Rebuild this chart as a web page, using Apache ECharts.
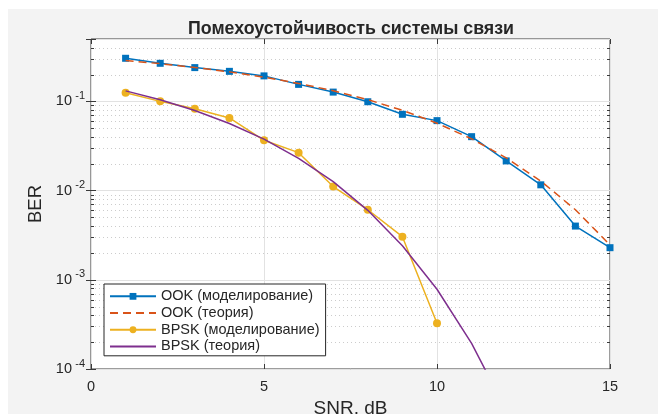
<!DOCTYPE html>
<html>
<head>
<meta charset="utf-8">
<script src="https://cdn.jsdelivr.net/npm/echarts@6/dist/echarts.min.js"></script>
<style>
html,body{margin:0;padding:0;background:#ffffff;}
#chart{width:658px;height:414px;}
</style>
</head>
<body>
<div id="chart"></div>
<script>
// ---- data ----
const snrSim = [1,2,3,4,5,6,7,8,9,10,11,12,13,14,15];
const ookSim = [0.304,0.267,0.239,0.217,0.193,0.155,0.127,0.099,0.0716,0.0608,0.0402,0.0215,0.0116,0.0040,0.00229];
const snrTheory = [1,2,3,4,5,6,7,8,9,10,11,12,13,14,15];
const ookTheory = [0.287,0.2645,0.240,0.214,0.187,0.159,0.1315,0.1045,0.0794,0.0569,0.0380,0.0233,0.0128,0.0061,0.00246];
const snrBpskSim = [1,2,3,4,5,6,7,8,9,10];
const bpskSim = [0.125,0.100,0.0828,0.0652,0.0366,0.0266,0.0111,0.0061,0.00304,0.000325];
const snrBpskTheory = [1,2,3,4,5,6,7,8,9,10,11,12];
const bpskTheory = [0.131,0.104,0.0789,0.0565,0.0377,0.0230,0.0126,0.00601,0.00241,0.000783,0.000194,0.0000343];
const seriesNames = ['OOK (моделирование)','OOK (теория)','BPSK (моделирование)','BPSK (теория)'];
const xTicks = ['0','5','10','15'];
const yTickBase = '10';
const yTickExponents = ['-4','-3','-2','-1'];
const yMinorGrid = [2e-4,3e-4,4e-4,5e-4,6e-4,7e-4,8e-4,9e-4,
                    2e-3,3e-3,4e-3,5e-3,6e-3,7e-3,8e-3,9e-3,
                    2e-2,3e-2,4e-2,5e-2,6e-2,7e-2,8e-2,9e-2,
                    2e-1,3e-1,4e-1];
const titleText = 'Помехоустойчивость системы связи';
const xName = 'SNR, dB';
const yName = 'BER';

const zip = (xs, ys) => xs.map((x, i) => [x, ys[i]]);
const AX = '#3a3a3a';
const TXT = '#262626';
const FONT = 'Liberation Sans';
const Y_MIN = 1e-4, Y_MAX = 0.5;

const chart = echarts.init(document.getElementById('chart'), null, {renderer: 'canvas'});

function decadeExp(v) {
  const e = Math.log10(v);
  const r = Math.round(e);
  if (Math.abs(e - r) > 1e-6) return null;
  const s = String(r);
  return yTickExponents.indexOf(s) < 0 ? null : s;
}

const hiddenLogAxis = (extra) => Object.assign({
  type: 'log', logBase: 10, min: Y_MIN, max: Y_MAX,
  axisLine: {show: false}, axisTick: {show: false},
  axisLabel: {show: false}, splitLine: {show: false}
}, extra);

const option = {
  animation: false,
  backgroundColor: 'transparent',
  graphic: [{
    type: 'rect', left: 8, top: 9, z: -100,
    shape: {width: 650, height: 405},
    style: {fill: '#f3f3f3'}
  }],
  title: {
    text: titleText,
    left: 346, top: 15, textAlign: 'center',
    textStyle: {fontFamily: FONT, fontWeight: 'bold', fontSize: 17.8, color: TXT}
  },
  grid: {
    left: 91, right: 48, top: 39, bottom: 45,
    containLabel: false, outerBoundsMode: 'none',
    show: true, backgroundColor: '#ffffff', borderColor: AX, borderWidth: 1
  },
  legend: {
    data: [
      {name: seriesNames[0]},
      {name: seriesNames[1], itemStyle: {color: 'rgba(0,0,0,0)', borderWidth: 0}},
      {name: seriesNames[2]},
      {name: seriesNames[3], itemStyle: {color: 'rgba(0,0,0,0)', borderWidth: 0}}
    ],
    orient: 'vertical',
    left: 104, top: 284,
    padding: [4, 6, 1, 5],
    itemGap: 0,
    itemWidth: 46, itemHeight: 8.5,
    backgroundColor: '#ffffff',
    borderColor: '#262626', borderWidth: 1, borderRadius: 0,
    textStyle: {fontFamily: FONT, fontSize: 14.5, color: TXT, lineHeight: 16.7},
    selectedMode: false
  },
  xAxis: [{
    type: 'value', min: 0, max: 15, interval: 5,
    position: 'bottom',
    name: xName, nameLocation: 'middle', nameGap: 24,
    nameTextStyle: {fontFamily: FONT, fontSize: 19, color: TXT},
    axisLine: {show: false},
    axisTick: {show: true, inside: true, length: 5, lineStyle: {color: AX}},
    axisLabel: {
      fontFamily: FONT, fontSize: 14.5, color: TXT, margin: 10,
      formatter: v => xTicks[Math.round(v / 5)] || ''
    },
    splitLine: {show: true, lineStyle: {color: '#e2e2e2', width: 1}}
  }, {
    type: 'value', min: 0, max: 15, interval: 5,
    position: 'top',
    axisLine: {show: false},
    axisTick: {show: true, inside: true, length: 5, lineStyle: {color: AX}},
    axisLabel: {show: false},
    splitLine: {show: false}
  }],
  yAxis: [{
    type: 'log', logBase: 10, min: Y_MIN, max: Y_MAX,
    position: 'left',
    name: yName, nameLocation: 'middle', nameGap: 42, nameRotate: 90,
    nameTextStyle: {fontFamily: FONT, fontSize: 18.5, color: TXT},
    axisLine: {show: false},
    axisTick: {show: true, inside: true, length: 5, lineStyle: {color: AX}},
    axisLabel: {
      margin: 19, fontFamily: FONT, fontSize: 14.5, color: TXT,
      verticalAlign: 'middle', padding: [5, 0, 0, 0],
      formatter: v => decadeExp(v) === null ? '' : yTickBase
    },
    splitLine: {show: true, lineStyle: {color: '#e2e2e2', width: 1}}
  },
  hiddenLogAxis({position: 'right',
    axisTick: {show: true, inside: true, length: 5, lineStyle: {color: AX}}}),
  hiddenLogAxis({position: 'left',
    axisLabel: {
      show: true, margin: 6, fontFamily: FONT, fontSize: 11, color: TXT,
      verticalAlign: 'bottom', lineHeight: 11,
      formatter: v => decadeExp(v) || ''
    }})
  ],
  series: [
    {
      type: 'custom', name: 'minorgrid', xAxisIndex: 0, yAxisIndex: 0, z: 1,
      silent: true, clip: false,
      data: yMinorGrid.map(v => [0, v]),
      renderItem: function (params, api) {
        const cs = params.coordSys;
        const y = Math.round(api.coord([0, api.value(1)])[1]) + 0.5;
        const x0 = cs.x, x1 = cs.x + cs.width;
        return {
          type: 'group',
          children: [
            {type: 'line', shape: {x1: x0, y1: y, x2: x1, y2: y},
             style: {stroke: '#cccccc', lineWidth: 1, lineDash: [1, 3]}},
            {type: 'line', shape: {x1: x0, y1: y, x2: x0 + 3, y2: y},
             style: {stroke: AX, lineWidth: 1}},
            {type: 'line', shape: {x1: x1 - 3, y1: y, x2: x1, y2: y},
             style: {stroke: AX, lineWidth: 1}}
          ]
        };
      }
    },
    {
      name: seriesNames[0], type: 'line', z: 3,
      data: zip(snrSim, ookSim),
      symbol: 'rect', symbolSize: 7, showSymbol: true, showAllSymbol: true,
      lineStyle: {color: '#0072BD', width: 1.5},
      itemStyle: {color: '#0072BD'}
    },
    {
      name: seriesNames[1], type: 'line', z: 4,
      data: zip(snrTheory, ookTheory),
      symbol: 'none', showSymbol: false,
      lineStyle: {color: '#D95319', width: 1.5, type: [8, 5]},
      itemStyle: {color: '#D95319'}
    },
    {
      name: seriesNames[2], type: 'line', z: 5,
      data: zip(snrBpskSim, bpskSim),
      symbol: 'circle', symbolSize: 8, showSymbol: true, showAllSymbol: true,
      lineStyle: {color: '#EDB120', width: 1.5},
      itemStyle: {color: '#EDB120'}
    },
    {
      name: seriesNames[3], type: 'line', z: 6,
      data: zip(snrBpskTheory, bpskTheory),
      symbol: 'none', showSymbol: false,
      lineStyle: {color: '#7E2F8E', width: 1.5},
      itemStyle: {color: '#7E2F8E'}
    }
  ]
};
chart.setOption(option);
</script>
</body>
</html>
